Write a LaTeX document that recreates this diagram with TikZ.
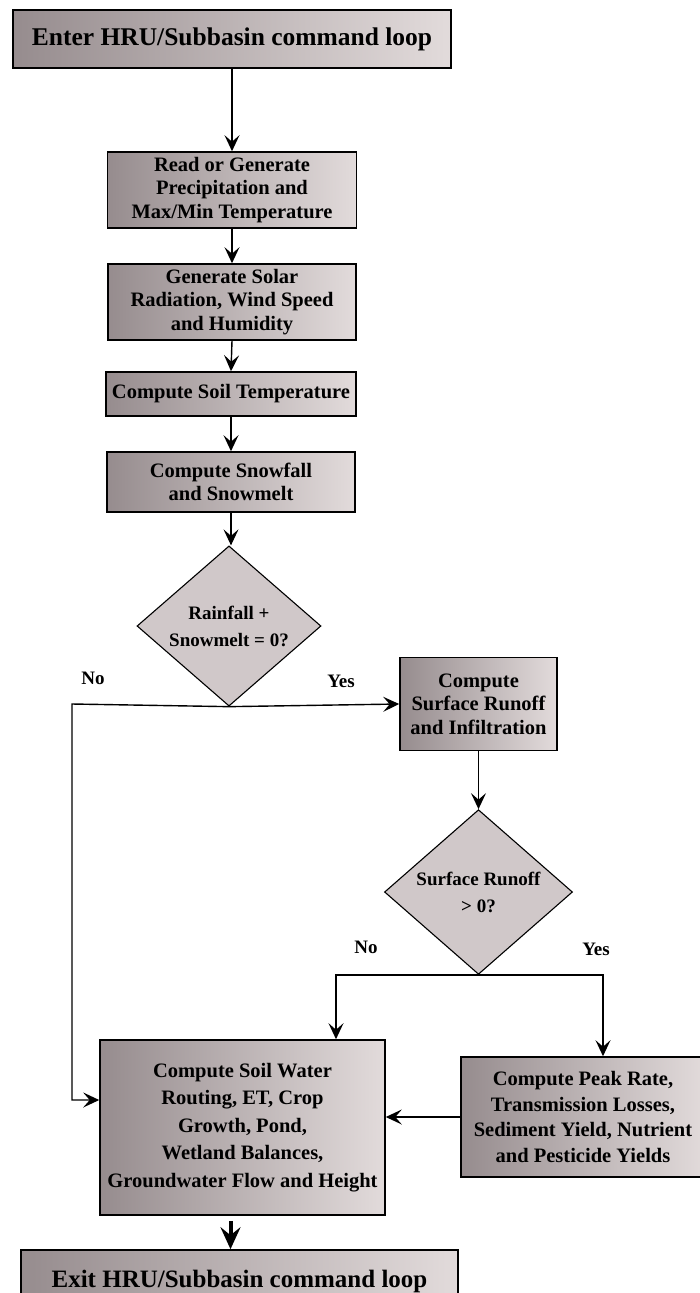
\documentclass[tikz,border=0pt]{standalone}
\usepackage{fontspec}
\setmainfont{Liberation Serif}
\usetikzlibrary{shapes.geometric,arrows.meta}
\definecolor{boxdark}{RGB}{150,140,142}
\definecolor{boxlight}{RGB}{226,219,219}
\definecolor{diafill}{RGB}{208,200,201}
\begin{document}
\begin{tikzpicture}[x=1pt,y=-1pt,
  box/.style={draw=black, line width=1.6pt, left color=boxdark, right color=boxlight,
    align=center, font=\bfseries\fontsize{20.5}{23.5}\selectfont, inner sep=0pt},
  bigbox/.style={box, font=\bfseries\fontsize{25.5}{28}\selectfont},
  dia/.style={diamond, draw=black, line width=1.1pt, fill=diafill, align=center,
    font=\bfseries\fontsize{19}{27}\selectfont, inner sep=0pt},
  arr/.style={line width=1.4pt, -{Stealth[length=16pt,width=15pt,inset=6.5pt]}},
  bigarr/.style={line width=4pt, -{Stealth[length=22pt,width=20pt,inset=8pt]}},
  lab/.style={font=\bfseries\fontsize{19}{20}\selectfont}
]
\useasboundingbox (0,0) rectangle (700,1293);
\fill[white] (0,0) rectangle (700,1293);
\clip (0,0) rectangle (700,1293);

\node[bigbox, minimum width=438pt, minimum height=58pt] (top) at (232,39) {Enter HRU/Subbasin command loop};
\node[box, minimum width=249pt, minimum height=76pt] (read) at (232,190) {Read or Generate\\Precipitation and\\Max/Min Temperature};
\node[box, minimum width=248pt, minimum height=76pt] (gen) at (232,302) {Generate Solar\\Radiation, Wind Speed\\and Humidity};
\node[box, minimum width=250pt, minimum height=44pt] (stemp) at (231,394) {Compute Soil Temperature};
\node[box, minimum width=248pt, minimum height=60pt] (snow) at (231,482) {Compute Snowfall\\and Snowmelt};
\node[dia, minimum width=184pt, minimum height=156pt] (d1) at (229,626) {Rainfall +\\Snowmelt = 0?};
\node[box, minimum width=157pt, minimum height=93pt] (runoff) at (478.5,704) {Compute\\Surface Runoff\\and Infiltration};
\node[dia, minimum width=188pt, minimum height=154pt] (d2) at (478.5,892) {Surface Runoff\\> 0?};
\node[box, minimum width=285pt, minimum height=175pt, font=\bfseries\fontsize{20.5}{27.5}\selectfont] (soil) at (242.5,1127.5) {Compute Soil Water\\Routing, ET, Crop\\Growth, Pond,\\Wetland Balances,\\Groundwater Flow and Height};
\node[box, minimum width=244pt, minimum height=120pt, font=\bfseries\fontsize{20.5}{25.5}\selectfont] (peak) at (583,1117) {Compute Peak Rate,\\Transmission Losses,\\Sediment Yield, Nutrient\\and Pesticide Yields};
\node[bigbox, minimum width=437pt, minimum height=62pt, font=\bfseries\fontsize{25}{28}\selectfont] (exit) at (239.5,1281) {Exit HRU/Subbasin command loop};

\node[lab] (no1) at (93,678) {No};
\node[lab] (yes1) at (341,681) {Yes};
\node[lab] (no2) at (366,947) {No};
\node[lab] (yes2) at (596,949) {Yes};

\coordinate (nc) at (72,704);

\draw[arr] (top.south) -- (read.north);
\draw[arr] (read.south) -- (gen.north);
\draw[arr] (gen.south) -- (stemp.north);
\draw[arr] (stemp.south) -- (snow.north);
\draw[arr] (snow.south) -- (snow.south |- d1.north);
\draw[arr] (d1.south) -- (runoff.west);
\draw[arr] (d1.south) -- (nc) |- ([yshift=27.5pt]soil.west);
\draw[arr] (runoff.south) -- (d2.north);
\draw[arr] (d2.south) -| ([xshift=93.5pt]soil.north);
\draw[arr] (d2.south) -| ([xshift=20pt]peak.north);
\draw[arr] (peak.west) -- (peak.west -| soil.east);
\draw[bigarr] ([xshift=-12pt,yshift=-5pt]soil.south) -- ([xshift=-12pt]soil.south |- exit.north);
\end{tikzpicture}
\end{document}
